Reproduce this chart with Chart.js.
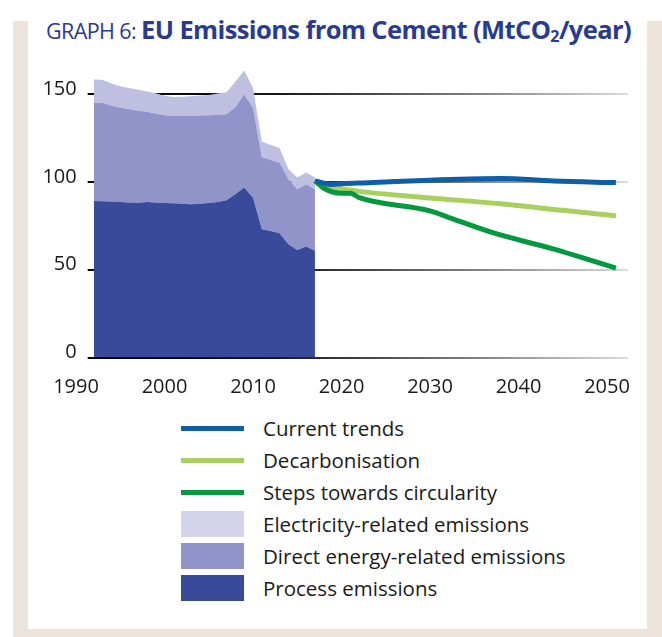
<!DOCTYPE html>
<html lang="en">
<head>
    <meta charset="UTF-8">
    <title>EU Emissions from Cement</title>
    <script src="https://cdn.jsdelivr.net/npm/chart.js"></script>
    <style>
        body {
            margin: 0;
            width: 662px;
            height: 637px;
            position: relative;
            overflow: hidden;
            background: #ffffff;
            font-family: 'Open Sans', sans-serif;
        }
        .frame {
            position: absolute;
            left: 13px;
            top: 21px;
            right: 0;
            bottom: 0;
            background: #ede3da;
        }
        .panel {
            position: absolute;
            left: 28px;
            top: 21px;
            width: 619px;
            height: 608px;
            background: #ffffff;
        }
        .title {
            position: absolute;
            left: 46px;
            top: 12px;
            color: #2a3b8f;
            white-space: nowrap;
            background: #ffffff;
            letter-spacing: -0.6px;
        }
        .title .lead {
            font-size: 21.5px;
            font-weight: 400;
        }
        .title b {
            font-size: 25.5px;
            font-weight: 700;
        }
        #chartBox {
            position: absolute;
            left: 0;
            top: 35.5px;
            width: 662px;
            height: 374.5px;
        }
        .legend-row {
            position: absolute;
            left: 181px;
            height: 32px;
            display: flex;
            align-items: center;
            font-size: 20.5px;
            color: #1a1a1a;
        }
        .swatch {
            width: 63px;
            margin-right: 19px;
        }
    </style>
</head>
<body>
    <div class="frame"></div>
    <div class="panel"></div>
    <div class="title"><span class="lead">GRAPH 6: </span><b>EU Emissions from Cement (MtCO<sub style="font-size:16px;vertical-align:-3px">2</sub>/year)</b></div>
    <div id="chartBox"><canvas id="cementChart"></canvas></div>
    <div id="legend"></div>
    <script>
        // historic years (stacked areas) and scenario years (lines)
        const histYears = [1992, 1993, 1994, 1995, 1996, 1997, 1998, 1999, 2000, 2001, 2002, 2003, 2004,
            2005, 2006, 2007, 2008, 2009, 2010, 2011, 2012, 2013, 2014, 2015, 2016, 2017];
        // top of each layer, MtCO2/year
        const processTop = [89.2, 89, 88.8, 88.5, 88.3, 88.2, 88.5, 88.3, 88, 87.8, 87.5, 87.3, 87.5,
            88, 88.5, 89.5, 93, 96.8, 91, 73, 72, 70.8, 64.5, 61.2, 63.2, 60.8];
        const directTop = [145, 145, 143.5, 142.2, 141.5, 140.5, 140, 139, 138, 137.5, 137.5, 137.7, 137.8,
            138, 138.3, 138.5, 142.5, 149.8, 142.2, 114, 112.5, 111, 101.5, 95.8, 98.6, 95.8];
        const electricityTop = [158.5, 158, 156, 154.5, 153.5, 152.5, 151.5, 150.5, 149, 148.3, 148.5, 148.8, 149.2,
            149.5, 150.3, 151, 157, 163.5, 153.6, 123, 121, 119.3, 107.4, 102.5, 105.3, 102.5];

        const currentYears = [2017, 2019, 2020, 2023, 2030, 2038, 2044, 2051];
        const currentTrends = [100.6, 98.5, 99, 99.5, 101, 102, 100.5, 99.6];
        const decarbYears = [2017, 2018, 2020, 2022, 2030, 2038, 2045, 2051];
        const decarbonisation = [100.6, 98.5, 96.2, 94.6, 90.9, 87.5, 83.8, 80.7];
        const stepsYears = [2017, 2018, 2020, 2021, 2022, 2030, 2032, 2037, 2044, 2051];
        const circularity = [100.6, 96.4, 93.6, 93.6, 91, 83.5, 80, 71.2, 61.7, 50.9];

        const xTicks = [1990, 2000, 2010, 2020, 2030, 2040, 2050];
        const yTicks = [0, 50, 100, 150];

        const legendItems = [
            { label: 'Current trends', color: '#0e5ea8', kind: 'line' },
            { label: 'Decarbonisation', color: '#a9cf5e', kind: 'line' },
            { label: 'Steps towards circularity', color: '#04983f', kind: 'line' },
            { label: 'Electricity-related emissions', color: '#d3d4eb', kind: 'box' },
            { label: 'Direct energy-related emissions', color: '#9094c8', kind: 'box' },
            { label: 'Process emissions', color: '#3a4a9a', kind: 'box' }
        ];

        function pts(xs, ys) {
            return xs.map((x, i) => ({ x: x, y: ys[i] }));
        }

        const tickFont = { family: "'Open Sans', sans-serif", size: 20 };

        // black-to-grey fading grid lines
        function gridColour(ctx) {
            const chart = ctx.chart;
            const area = chart.chartArea;
            if (!area) return '#000';
            const g = chart.ctx.createLinearGradient(area.left - 6, 0, area.right, 0);
            g.addColorStop(0, '#000000');
            g.addColorStop(0.35, '#151515');
            g.addColorStop(0.75, '#8a8a8a');
            g.addColorStop(1, '#dcdcdc');
            return g;
        }

        const ctx = document.getElementById('cementChart').getContext('2d');
        new Chart(ctx, {
            type: 'line',
            data: {
                datasets: [
                    {
                        label: 'Process emissions',
                        data: pts(histYears, processTop),
                        backgroundColor: '#3a4a9a',
                        borderWidth: 0,
                        pointRadius: 0,
                        fill: 'origin',
                        order: 2
                    },
                    {
                        label: 'Direct energy-related emissions',
                        data: pts(histYears, directTop),
                        backgroundColor: '#9094c8',
                        borderWidth: 0,
                        pointRadius: 0,
                        fill: '-1',
                        order: 2
                    },
                    {
                        label: 'Electricity-related emissions',
                        data: pts(histYears, electricityTop),
                        backgroundColor: '#bfc0e1',
                        borderWidth: 0,
                        pointRadius: 0,
                        fill: '-1',
                        order: 2
                    },
                    {
                        label: 'Current trends',
                        data: pts(currentYears, currentTrends),
                        borderColor: '#0e5ea8',
                        borderWidth: 5,
                        pointRadius: 0,
                        cubicInterpolationMode: 'monotone',
                        fill: false,
                        order: 0
                    },
                    {
                        label: 'Decarbonisation',
                        data: pts(decarbYears, decarbonisation),
                        borderColor: '#a9cf5e',
                        borderWidth: 5,
                        pointRadius: 0,
                        cubicInterpolationMode: 'monotone',
                        fill: false,
                        order: 1
                    },
                    {
                        label: 'Steps towards circularity',
                        data: pts(stepsYears, circularity),
                        borderColor: '#04983f',
                        borderWidth: 5,
                        pointRadius: 0,
                        cubicInterpolationMode: 'monotone',
                        fill: false,
                        order: 0
                    }
                ]
            },
            options: {
                responsive: true,
                maintainAspectRatio: false,
                animation: false,
                layout: { padding: { top: 17.8, right: 34, left: 0, bottom: 0 } },
                scales: {
                    x: {
                        type: 'linear',
                        min: 1992,
                        max: 2052.37,
                        grid: { display: false },
                        border: { display: false },
                        afterBuildTicks: function(scale) {
                            scale.ticks = xTicks.map(v => ({ value: v }));
                        },
                        afterFit: function(scale) {
                            scale.height = 53;
                        },
                        ticks: {
                            font: tickFont,
                            color: '#1a1a1a',
                            padding: 10,
                            autoSkip: false,
                            maxRotation: 0,
                            callback: v => String(v)
                        }
                    },
                    y: {
                        min: 0,
                        max: 170,
                        z: 1,
                        border: { display: false },
                        afterBuildTicks: function(scale) {
                            scale.ticks = yTicks.map(v => ({ value: v }));
                        },
                        afterFit: function(scale) {
                            scale.width = 93.7;
                        },
                        grid: {
                            color: gridColour,
                            lineWidth: 2,
                            tickLength: 6
                        },
                        ticks: {
                            font: tickFont,
                            color: '#1a1a1a',
                            padding: 11,
                            labelOffset: -5
                        }
                    }
                },
                plugins: {
                    legend: { display: false },
                    tooltip: { enabled: false }
                }
            }
        });

        // vertical legend
        const legendEl = document.getElementById('legend');
        legendItems.forEach((item, i) => {
            const row = document.createElement('div');
            row.className = 'legend-row';
            row.style.top = (412 + i * 32) + 'px';
            const sw = document.createElement('div');
            sw.className = 'swatch';
            sw.style.background = item.color;
            sw.style.height = item.kind === 'line' ? '5px' : '26px';
            const txt = document.createElement('span');
            txt.textContent = item.label;
            row.appendChild(sw);
            row.appendChild(txt);
            legendEl.appendChild(row);
        });
    </script>
</body>
</html>
